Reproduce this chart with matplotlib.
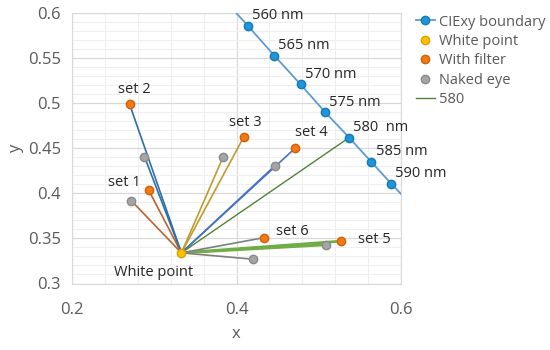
import matplotlib
matplotlib.use("Agg")
import matplotlib.pyplot as plt
from matplotlib.ticker import MultipleLocator, FuncFormatter

plt.rcParams['font.family'] = ['Open Sans', 'DejaVu Sans']

# CIExy boundary (spectral locus, part)
wl_labels = ["", "560 nm", "565 nm", "570 nm", "575 nm", "580  nm", "585 nm", "590 nm", ""]
locus_x = [0.382, 0.414, 0.446, 0.478, 0.508, 0.537, 0.564, 0.588, 0.612]
locus_y = [0.618, 0.586, 0.553, 0.521, 0.490, 0.462, 0.435, 0.411, 0.388]

white_x, white_y = 0.333, 0.334

sets = ["set 1", "set 2", "set 3", "set 4", "set 5", "set 6"]
filter_x = [0.293, 0.270, 0.409, 0.471, 0.527, 0.434]
filter_y = [0.404, 0.499, 0.463, 0.450, 0.347, 0.351]
naked_x = [0.272, 0.288, 0.384, 0.447, 0.509, 0.420]
naked_y = [0.392, 0.441, 0.441, 0.431, 0.343, 0.327]
set_colors = ["#C0622B", "#2E6FA5", "#BF9B30", "#4472C4", "#70AD47", "#7F7F7F"]
set_widths = [1.2, 1.2, 1.2, 1.2, 2.0, 1.2]

fig = plt.figure(figsize=(5.5, 3.5), dpi=100)
ax = fig.add_axes([0.131, 0.19, 0.598, 0.772])

# linee dal punto bianco a ogni set
for i in range(len(sets)):
    for px, py in [(filter_x[i], filter_y[i]), (naked_x[i], naked_y[i])]:
        ax.plot([white_x, px], [white_y, py], color=set_colors[i], lw=set_widths[i], zorder=2)

# 580 line
ax.plot([white_x, locus_x[5]], [white_y, locus_y[5]], color="#548235", lw=1.0, zorder=2, label="580")

ax.plot(locus_x, locus_y, color="#5A9BD5", lw=1.3, marker="o", ms=6,
        mfc="#1E96D8", mec="#157AB5", zorder=3, label="CIExy boundary")
ax.plot(naked_x, naked_y, ls="none", marker="o", ms=6, mfc="#A5A5A5", mec="#8A8A8A",
        zorder=4, label="Naked eye")
ax.plot(filter_x, filter_y, ls="none", marker="o", ms=6, mfc="#F07A14", mec="#D0600A",
        zorder=4, label="With filter")
ax.plot([white_x], [white_y], ls="none", marker="o", ms=6, mfc="#FFC000", mec="#D9A000",
        zorder=5, label="White point")

for lbl, x, y in zip(wl_labels, locus_x, locus_y):
    if lbl:
        ax.annotate(lbl, (x, y), xytext=(3, 2), textcoords="offset points",
                    fontsize=10.5, color="#262626", va="bottom", ha="left")

set_offsets = [(-29, 0), (-8, 5), (-11, 5), (0, 6), (12, -4), (8, -1)]
for i, lbl in enumerate(sets):
    ax.annotate(lbl, (filter_x[i], filter_y[i]), xytext=set_offsets[i], textcoords="offset points",
                fontsize=10.5, color="#262626", va="bottom", ha="left")
ax.annotate("White point", (white_x, white_y), xytext=(-20, -9), textcoords="offset points",
            fontsize=10.5, color="#262626", va="top", ha="center")

ax.set_xlim(0.2, 0.6)
ax.set_ylim(0.3, 0.6)
ax.xaxis.set_major_locator(MultipleLocator(0.2))
ax.xaxis.set_minor_locator(MultipleLocator(0.04))
ax.yaxis.set_major_locator(MultipleLocator(0.05))
ax.yaxis.set_minor_locator(MultipleLocator(0.01))
fmt = FuncFormatter(lambda v, p: f"{v:g}")
ax.xaxis.set_major_formatter(fmt)
ax.yaxis.set_major_formatter(fmt)
ax.grid(which="major", color="#D9D9D9", lw=0.9)
ax.grid(which="minor", color="#EFEFEF", lw=0.8)
ax.set_axisbelow(True)
for s in ax.spines.values():
    s.set_color("#D9D9D9")
ax.tick_params(which="both", length=0, colors="#595959", labelsize=12)
ax.tick_params(axis="x", pad=13)
ax.tick_params(axis="y", pad=8)
ax.set_xlabel("x", fontsize=12, color="#595959", labelpad=6)
ax.set_ylabel("y", fontsize=12, color="#595959", labelpad=3)

h, l = ax.get_legend_handles_labels()
order = ["CIExy boundary", "White point", "With filter", "Naked eye", "580"]
hd = dict(zip(l, h))
leg = fig.legend([hd[k] for k in order], order, loc="upper left", bbox_to_anchor=(0.745, 0.975),
                 frameon=False, fontsize=10.5, handlelength=1.3, handletextpad=0.3,
                 labelspacing=0.3, labelcolor="#595959", borderaxespad=0)

fig.savefig("out.png", dpi=100)
